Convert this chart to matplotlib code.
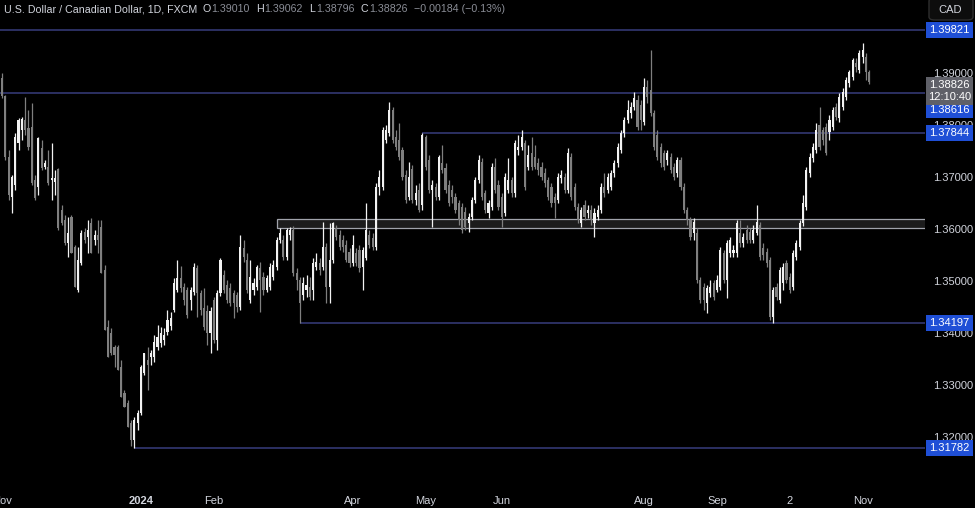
import numpy as np
import pandas as pd
import matplotlib
matplotlib.use("Agg")
import matplotlib.pyplot as plt
from matplotlib.patches import Rectangle, FancyBboxPatch

# USD/CAD daily candles, FXCM, 1 Nov 2023 .. 5 Nov 2024
dates = pd.bdate_range("2023-11-01", "2024-11-05")
dates = dates.drop(pd.to_datetime(["2023-12-25", "2024-01-01"]))

opens = [
    1.3890, 1.3856, 1.3738, 1.3662, 1.3685, 1.3765, 1.3790, 1.3810, 1.3794, 1.3796,
    1.3694, 1.3681, 1.3756, 1.3719, 1.3719, 1.3694, 1.3690, 1.3715, 1.3637, 1.3617,
    1.3573, 1.3623, 1.3565, 1.3483, 1.3535, 1.3594, 1.3585, 1.3612, 1.3579, 1.3588,
    1.3604, 1.3521, 1.3412, 1.3400, 1.3373, 1.3373, 1.3335, 1.3285, 1.3265, 1.3227,
    1.3194, 1.3227, 1.3246, 1.3323, 1.3348, 1.3354, 1.3354, 1.3373, 1.3381, 1.3387,
    1.3402, 1.3413, 1.3444, 1.3483, 1.3506, 1.3488, 1.3483, 1.3463, 1.3479, 1.3525,
    1.3477, 1.3448, 1.3442, 1.3400, 1.3463, 1.3387, 1.3477, 1.3512, 1.3492, 1.3487,
    1.3477, 1.3473, 1.3450, 1.3563, 1.3540, 1.3463, 1.3483, 1.3488, 1.3525, 1.3508,
    1.3483, 1.3488, 1.3508, 1.3527, 1.3579, 1.3579, 1.3546, 1.3588, 1.3598, 1.3515,
    1.3502, 1.3473, 1.3483, 1.3488, 1.3483, 1.3527, 1.3535, 1.3527, 1.3565, 1.3488,
    1.3540, 1.3602, 1.3588, 1.3579, 1.3569, 1.3556, 1.3535, 1.3554, 1.3560, 1.3527,
    1.3544, 1.3588, 1.3583, 1.3565, 1.3681, 1.3681, 1.3771, 1.3785, 1.3829, 1.3777,
    1.3771, 1.3752, 1.3704, 1.3662, 1.3715, 1.3656, 1.3675, 1.3646, 1.3777, 1.3733,
    1.3675, 1.3681, 1.3662, 1.3727, 1.3717, 1.3685, 1.3675, 1.3662, 1.3650, 1.3642,
    1.3633, 1.3612, 1.3623, 1.3656, 1.3694, 1.3729, 1.3669, 1.3631, 1.3642, 1.3719,
    1.3685, 1.3662, 1.3631, 1.3675, 1.3694, 1.3669, 1.3752, 1.3758, 1.3765, 1.3719,
    1.3746, 1.3738, 1.3727, 1.3719, 1.3708, 1.3694, 1.3681, 1.3662, 1.3656, 1.3698,
    1.3700, 1.3675, 1.3738, 1.3681, 1.3642, 1.3612, 1.3646, 1.3631, 1.3637, 1.3612,
    1.3623, 1.3637, 1.3681, 1.3675, 1.3681, 1.3708, 1.3727, 1.3752, 1.3785, 1.3810,
    1.3823, 1.3835, 1.3848, 1.3838, 1.3806, 1.3873, 1.3867, 1.3823, 1.3781, 1.3758,
    1.3746, 1.3733, 1.3738, 1.3719, 1.3708, 1.3733, 1.3681, 1.3637, 1.3617, 1.3592,
    1.3592, 1.3502, 1.3488, 1.3458, 1.3477, 1.3496, 1.3483, 1.3488, 1.3554, 1.3502,
    1.3554, 1.3554, 1.3554, 1.3592, 1.3573, 1.3598, 1.3594, 1.3579, 1.3592, 1.3608,
    1.3563, 1.3556, 1.3540, 1.3431, 1.3488, 1.3463, 1.3496, 1.3535, 1.3508, 1.3488,
    1.3546, 1.3565, 1.3612, 1.3642, 1.3708, 1.3737, 1.3752, 1.3800, 1.3790, 1.3796,
    1.3787, 1.3796, 1.3835, 1.3813, 1.3835, 1.3854, 1.3881, 1.3892, 1.3919, 1.3906,
    1.3931, 1.3931, 1.39010,
]
highs = [
    1.3900, 1.3858, 1.3752, 1.3704, 1.3785, 1.3813, 1.3815, 1.3854, 1.3829, 1.3842,
    1.3704, 1.3777, 1.3771, 1.3733, 1.3752, 1.3765, 1.3713, 1.3717, 1.3646, 1.3627,
    1.3623, 1.3627, 1.3569, 1.3565, 1.3598, 1.3602, 1.3617, 1.3621, 1.3598, 1.3617,
    1.3617, 1.3531, 1.3425, 1.3410, 1.3377, 1.3377, 1.3348, 1.3290, 1.3271, 1.3233,
    1.3238, 1.3252, 1.3338, 1.3362, 1.3373, 1.3367, 1.3396, 1.3415, 1.3412, 1.3410,
    1.3444, 1.3440, 1.3506, 1.3540, 1.3529, 1.3496, 1.3488, 1.3488, 1.3535, 1.3531,
    1.3483, 1.3487, 1.3454, 1.3450, 1.3469, 1.3483, 1.3544, 1.3521, 1.3502, 1.3496,
    1.3483, 1.3479, 1.3588, 1.3579, 1.3554, 1.3540, 1.3506, 1.3531, 1.3537, 1.3517,
    1.3512, 1.3535, 1.3540, 1.3585, 1.3602, 1.3588, 1.3602, 1.3604, 1.3606, 1.3525,
    1.3508, 1.3508, 1.3512, 1.3508, 1.3544, 1.3554, 1.3544, 1.3613, 1.3573, 1.3612,
    1.3613, 1.3608, 1.3598, 1.3588, 1.3579, 1.3563, 1.3588, 1.3563, 1.3569, 1.3565,
    1.3650, 1.3598, 1.3592, 1.3688, 1.3713, 1.3796, 1.3800, 1.3844, 1.3835, 1.3790,
    1.3804, 1.3758, 1.3713, 1.3729, 1.3723, 1.3685, 1.3688, 1.37844, 1.3780, 1.3742,
    1.3694, 1.3688, 1.3742, 1.3762, 1.3727, 1.3694, 1.3685, 1.3669, 1.3656, 1.3650,
    1.3642, 1.3631, 1.3662, 1.3700, 1.3742, 1.3737, 1.3675, 1.3656, 1.3727, 1.3737,
    1.3694, 1.3669, 1.3708, 1.3737, 1.3700, 1.3771, 1.3781, 1.3790, 1.3771, 1.3762,
    1.3777, 1.3762, 1.3737, 1.3729, 1.3717, 1.3700, 1.3688, 1.3669, 1.3708, 1.3713,
    1.3708, 1.3756, 1.3746, 1.3688, 1.3650, 1.3642, 1.3656, 1.3646, 1.3646, 1.3640,
    1.3646, 1.3688, 1.3708, 1.3708, 1.3713, 1.3733, 1.3765, 1.3790, 1.3815, 1.3848,
    1.3844, 1.3863, 1.3858, 1.3848, 1.3890, 1.3887, 1.3944, 1.3829, 1.3790, 1.3765,
    1.3752, 1.3752, 1.3746, 1.3727, 1.3738, 1.3738, 1.3688, 1.3642, 1.3623, 1.3621,
    1.3602, 1.3508, 1.3496, 1.3492, 1.3502, 1.3502, 1.3512, 1.3565, 1.3560, 1.3579,
    1.3585, 1.3569, 1.3617, 1.3617, 1.3592, 1.3608, 1.3602, 1.3608, 1.3646, 1.3613,
    1.3573, 1.3563, 1.3546, 1.3488, 1.3496, 1.3527, 1.3535, 1.3540, 1.3515, 1.3560,
    1.3579, 1.3617, 1.3665, 1.3719, 1.3746, 1.3765, 1.3804, 1.3835, 1.3796, 1.3804,
    1.3819, 1.3835, 1.3842, 1.3862, 1.3871, 1.3892, 1.3906, 1.3929, 1.3929, 1.3944,
    1.3958, 1.3938, 1.39062,
]
lows = [
    1.3852, 1.3733, 1.3656, 1.3631, 1.3675, 1.3752, 1.3771, 1.3781, 1.3752, 1.3685,
    1.3656, 1.3665, 1.3713, 1.3715, 1.3685, 1.3656, 1.3665, 1.3598, 1.3608, 1.3569,
    1.3546, 1.3554, 1.3488, 1.3479, 1.3531, 1.3573, 1.3554, 1.3554, 1.3569, 1.3554,
    1.3515, 1.3406, 1.3354, 1.3358, 1.3335, 1.3329, 1.3277, 1.3258, 1.3219, 1.3183,
    1.31782, 1.3213, 1.3242, 1.3319, 1.3290, 1.3338, 1.3344, 1.3367, 1.3373, 1.3377,
    1.3396, 1.3406, 1.3440, 1.3479, 1.3479, 1.3454, 1.3429, 1.3444, 1.3473, 1.3431,
    1.3435, 1.3406, 1.3377, 1.3362, 1.3381, 1.3367, 1.3471, 1.3477, 1.3458, 1.3452,
    1.3429, 1.3440, 1.3444, 1.3537, 1.3477, 1.3458, 1.3473, 1.3483, 1.3440, 1.3473,
    1.3479, 1.3483, 1.3502, 1.3521, 1.3573, 1.3540, 1.3540, 1.3579, 1.3510, 1.3483,
    1.34197, 1.3463, 1.3469, 1.3463, 1.3463, 1.3521, 1.3512, 1.3521, 1.3458, 1.3458,
    1.3535, 1.3579, 1.3560, 1.3556, 1.3537, 1.3527, 1.3529, 1.3529, 1.3517, 1.3483,
    1.3540, 1.3563, 1.3560, 1.3560, 1.3665, 1.3675, 1.3765, 1.3779, 1.3765, 1.3752,
    1.3733, 1.3694, 1.3650, 1.3656, 1.3650, 1.3646, 1.3633, 1.3637, 1.3713, 1.3669,
    1.3604, 1.3656, 1.3656, 1.3708, 1.3669, 1.3644, 1.3650, 1.3631, 1.3608, 1.3592,
    1.3598, 1.3594, 1.3617, 1.3650, 1.3688, 1.3656, 1.3631, 1.3621, 1.3637, 1.3669,
    1.3637, 1.3604, 1.3625, 1.3669, 1.3662, 1.3662, 1.3742, 1.3752, 1.3675, 1.3713,
    1.3713, 1.3715, 1.3704, 1.3694, 1.3681, 1.3656, 1.3642, 1.3621, 1.3650, 1.3688,
    1.3669, 1.3669, 1.3656, 1.3637, 1.3612, 1.3604, 1.3617, 1.3621, 1.3608, 1.3585,
    1.3617, 1.3631, 1.3662, 1.3669, 1.3675, 1.3700, 1.3719, 1.3746, 1.3777, 1.3804,
    1.3813, 1.3829, 1.3790, 1.3790, 1.3800, 1.3842, 1.3817, 1.3752, 1.3733, 1.3719,
    1.3713, 1.3723, 1.3708, 1.3694, 1.3700, 1.3675, 1.3631, 1.3608, 1.3579, 1.3579,
    1.3496, 1.3458, 1.3444, 1.3438, 1.3469, 1.3463, 1.3479, 1.3483, 1.3496, 1.3467,
    1.3546, 1.3546, 1.3546, 1.3565, 1.3565, 1.3573, 1.3573, 1.3573, 1.3588, 1.3540,
    1.3540, 1.3527, 1.3425, 1.34197, 1.3463, 1.3458, 1.3483, 1.3496, 1.3477, 1.3483,
    1.3540, 1.3560, 1.3606, 1.3637, 1.3700, 1.3729, 1.3746, 1.3752, 1.3762, 1.3742,
    1.3771, 1.3790, 1.3810, 1.3806, 1.3829, 1.3848, 1.3873, 1.3887, 1.3902, 1.3900,
    1.3919, 1.3887, 1.38796,
]
closes = [
    1.3856, 1.3738, 1.3665, 1.3700, 1.3777, 1.3810, 1.3812, 1.3790, 1.3758, 1.3688,
    1.3660, 1.3775, 1.3717, 1.3727, 1.3688, 1.3698, 1.3698, 1.3602, 1.3612, 1.3573,
    1.3592, 1.3554, 1.3488, 1.3540, 1.3592, 1.3579, 1.3598, 1.3554, 1.3588, 1.3579,
    1.3515, 1.3406, 1.3354, 1.3362, 1.3358, 1.3329, 1.3277, 1.3258, 1.3219, 1.3194,
    1.3233, 1.3246, 1.3335, 1.3362, 1.3338, 1.3362, 1.3383, 1.3392, 1.3400, 1.3396,
    1.3425, 1.3429, 1.3496, 1.3506, 1.3487, 1.3463, 1.3435, 1.3483, 1.3527, 1.3477,
    1.3444, 1.3412, 1.3400, 1.3442, 1.3387, 1.3477, 1.3540, 1.3483, 1.3463, 1.3458,
    1.3458, 1.3450, 1.3565, 1.3546, 1.3483, 1.3508, 1.3496, 1.3527, 1.3502, 1.3483,
    1.3506, 1.3527, 1.3531, 1.3579, 1.3592, 1.3546, 1.3598, 1.3598, 1.3515, 1.3502,
    1.3458, 1.3496, 1.3492, 1.3469, 1.3535, 1.3537, 1.3521, 1.3565, 1.3488, 1.3540,
    1.3612, 1.3585, 1.3565, 1.3565, 1.3540, 1.3535, 1.3569, 1.3535, 1.3525, 1.3560,
    1.3598, 1.3569, 1.3565, 1.3681, 1.3700, 1.3790, 1.3790, 1.3829, 1.3771, 1.3758,
    1.3738, 1.3700, 1.3656, 1.3700, 1.3656, 1.3669, 1.3637, 1.3781, 1.3719, 1.3675,
    1.3685, 1.3662, 1.3738, 1.3713, 1.3675, 1.3650, 1.3662, 1.3637, 1.3617, 1.3598,
    1.3604, 1.3623, 1.3656, 1.3694, 1.3733, 1.3662, 1.3637, 1.3650, 1.3719, 1.3675,
    1.3642, 1.3623, 1.3700, 1.3694, 1.3669, 1.3765, 1.3758, 1.3777, 1.3681, 1.3742,
    1.3719, 1.3719, 1.3713, 1.3700, 1.3688, 1.3662, 1.3650, 1.3650, 1.3700, 1.3704,
    1.3675, 1.3746, 1.3662, 1.3642, 1.3617, 1.3637, 1.3623, 1.3637, 1.3617, 1.3631,
    1.3637, 1.3681, 1.3669, 1.3700, 1.3708, 1.3727, 1.3758, 1.3785, 1.3810, 1.3829,
    1.3835, 1.3852, 1.3796, 1.3810, 1.3873, 1.3854, 1.3823, 1.3758, 1.3738, 1.3727,
    1.3719, 1.3746, 1.3713, 1.3700, 1.3733, 1.3681, 1.3637, 1.3617, 1.3585, 1.3613,
    1.3502, 1.3463, 1.3463, 1.3487, 1.3488, 1.3469, 1.3502, 1.3560, 1.3502, 1.3573,
    1.3579, 1.3560, 1.3612, 1.3573, 1.3585, 1.3579, 1.3579, 1.3598, 1.3613, 1.3546,
    1.3550, 1.3535, 1.3431, 1.3483, 1.3469, 1.3521, 1.3527, 1.3502, 1.3483, 1.3554,
    1.3573, 1.3612, 1.3650, 1.3713, 1.3738, 1.3758, 1.3790, 1.3758, 1.3771, 1.3746,
    1.3810, 1.3829, 1.3815, 1.3854, 1.3863, 1.3887, 1.3902, 1.3925, 1.3912, 1.3938,
    1.3944, 1.39010, 1.38826,
]

# horizontal levels drawn on the chart (price, start date; None = from left edge)
level_prices = [1.39821, 1.38616, 1.37844, 1.34197, 1.31782]
level_starts = [None, None, "2024-04-30", "2024-03-08", "2023-12-28"]
level_label_shift = [0, 17, 0, 0, 0]   # px the axis tag is pushed down (overlap)

zone_low, zone_high, zone_start = 1.3602, 1.3620, "2024-02-28"

tick_dates = ["2023-11-01", "2024-01-02", "2024-02-01", "2024-04-01", "2024-05-01",
              "2024-06-03", "2024-08-01", "2024-09-02", "2024-10-02", "2024-11-01"]
tick_labels = ["Nov", "2024", "Feb", "Apr", "May", "Jun", "Aug", "Sep", "2", "Nov"]
price_ticks = [1.32, 1.33, 1.34, 1.35, 1.36, 1.37, 1.38, 1.39]

last_close = closes[-1]
countdown = "12:10:40"

BG = "#000000"
UP = "#f2f2f2"
DOWN = "#7f7f7f"
LEVEL = "#383d7c"
TAG = "#1f4fd6"
TXT = "#d1d4dc"
MUTED = "#8a8d96"
FONT = "Liberation Sans"

W, H = 975, 508
fig = plt.figure(figsize=(W / 100, H / 100), dpi=100, facecolor=BG)
ax = fig.add_axes([0, 20 / H, 925 / W, 488 / H])
ax.set_facecolor(BG)
for s in ax.spines.values():
    s.set_visible(False)

o = np.array(opens)
hi = np.array(highs)
lo = np.array(lows)
c = np.array(closes)
x = np.arange(len(c))
pos = {d.strftime("%Y-%m-%d"): i for i, d in enumerate(dates)}

ax.set_xlim(-0.6, -0.6 + 925 / 3.31)
ax.set_ylim(1.39 - 415 / 5200, 1.39 + 73 / 5200)

# support / resistance zone
zx = pos[zone_start]
ax.add_patch(Rectangle((zx, zone_low), 400, zone_high - zone_low,
                       facecolor="#1c1c1c", edgecolor="#a0a3ab", lw=0.9, zorder=1))

# levels
for p, st in zip(level_prices, level_starts):
    x0 = -1 if st is None else pos[st]
    ax.hlines(p, x0, 400, color=LEVEL, lw=1.1, zorder=1)

# candles
up = c >= o
for mask, col in ((up, UP), (~up, DOWN)):
    ax.vlines(x[mask], lo[mask], hi[mask], color=col, lw=0.9, zorder=3)
    body = np.maximum(np.abs(c[mask] - o[mask]), 0.00012)
    ax.bar(x[mask], body, bottom=np.minimum(o[mask], c[mask]), width=0.64,
           color=col, linewidth=0, zorder=4)

# axes ticks
ax.set_xticks([pos[d] for d in tick_dates])
ax.set_xticklabels(tick_labels, fontfamily=FONT)
ax.get_xticklabels()[1].set_fontweight("bold")
ax.tick_params(axis="x", length=0, pad=6, labelsize=8, labelcolor=TXT)
ax.yaxis.tick_right()
ax.set_yticks(price_ticks)
ax.set_yticklabels([f"{v:.5f}" for v in price_ticks], fontfamily=FONT)
ax.tick_params(axis="y", length=0, pad=6, labelsize=8, labelcolor=TXT)


def fig_y(price):
    return ax.transData.transform((0, price))[1] / H


def tag(price, text, face, shift=0, h=16, extra=None):
    yc = fig_y(price) - shift / H
    top = yc + h / 2 / H
    box_h = h if extra is None else h + 12
    fig.add_artist(Rectangle((926 / W, top - box_h / H), 47 / W, box_h / H,
                             transform=fig.transFigure, facecolor=face,
                             edgecolor="none", zorder=5))
    fig.text(949.5 / W, yc, text, color="white", fontsize=8, fontfamily=FONT,
             ha="center", va="center", zorder=6)
    if extra:
        fig.text(949.5 / W, yc - 12 / H, extra, color="white", fontsize=8,
                 fontfamily=FONT, ha="center", va="center", zorder=6)


for p, sh in zip(level_prices, level_label_shift):
    tag(p, f"{p:.5f}", TAG, shift=sh)
tag(last_close, f"{last_close:.5f}", "#5f6068", shift=3, extra=countdown)

# currency button
fig.add_artist(FancyBboxPatch((929 / W, 488 / H), 44 / W, 22 / H,
                              boxstyle="round,pad=0,rounding_size=0.006",
                              transform=fig.transFigure, facecolor="#0d0d0d",
                              edgecolor="#2e2e2e", lw=1, zorder=5))
fig.text(950 / W, 498 / H, "CAD", color=TXT, fontsize=8, fontfamily=FONT,
         ha="center", va="center", zorder=6)

# header, laid out left to right from measured text widths
renderer = fig.canvas.get_renderer()
hy = 1 - 9 / H
xcur = 4


def put(s, color, gap):
    global xcur
    t = fig.text(xcur / W, hy, s, color=color, fontsize=7.7, fontfamily=FONT,
                 va="center")
    xcur = t.get_window_extent(renderer).x1 + gap


put("U.S. Dollar / Canadian Dollar, 1D, FXCM", TXT, 5)
for k, v in (("O", opens[-1]), ("H", highs[-1]), ("L", lows[-1]), ("C", closes[-1])):
    put(k, TXT, 1)
    put(f"{v:.5f}", MUTED, 6)
chg = closes[-1] - closes[-2]
put(f"\u2212{abs(chg):.5f} (\u2212{abs(chg) / closes[-2] * 100:.2f}%)", MUTED, 0)

fig.savefig("out.png", dpi=100, facecolor=BG)
